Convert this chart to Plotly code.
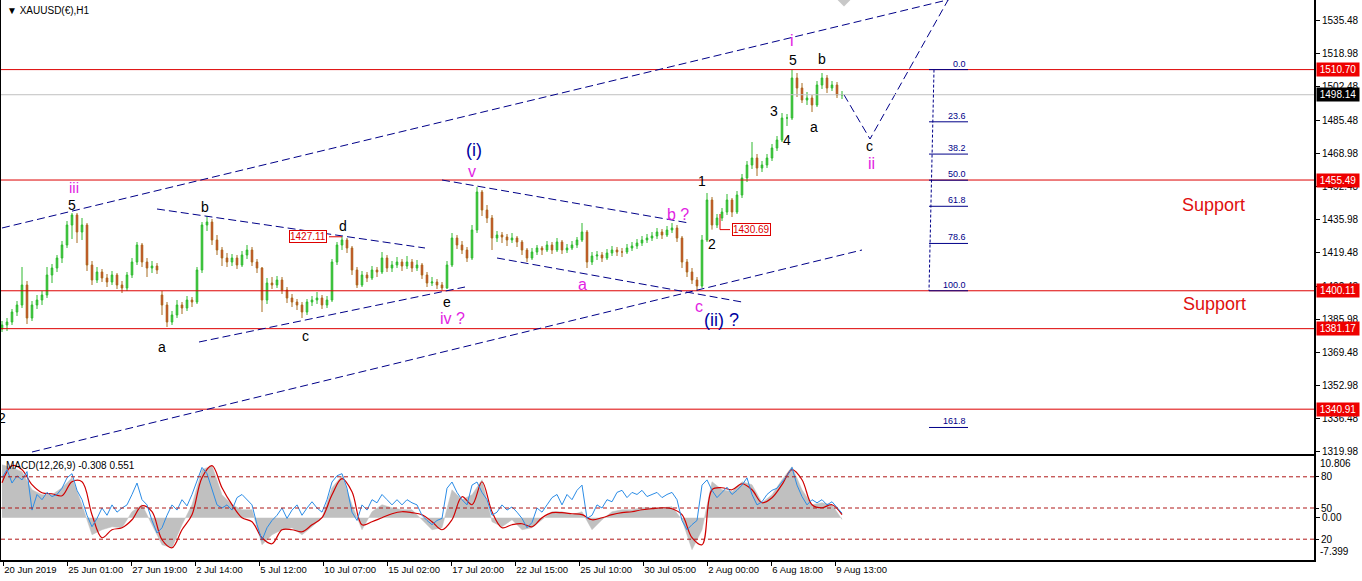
import plotly.graph_objects as go

# ---------------- XAUUSD H1 price path (one candle = 5 hourly bars) ----------------
BAR_STEP = 5
price_open = [
    1381.0, 1383.0, 1384.5, 1389.5, 1393.0, 1403.0, 1386.5, 1393.0, 1395.5, 1398.0,
    1408.0, 1411.5, 1416.5, 1423.0, 1433.0, 1438.0, 1429.5, 1433.0, 1413.0, 1405.5,
    1409.5, 1406.5, 1404.5, 1408.0, 1403.0, 1401.5, 1408.0, 1414.5, 1423.0, 1414.5,
    1411.5, 1412.5, 1398.0, 1393.0, 1384.5, 1388.0, 1393.0, 1391.5, 1395.5, 1394.5,
    1410.5, 1433.0, 1434.5, 1425.5, 1420.5, 1416.5, 1414.5, 1416.5, 1413.0, 1418.0,
    1420.5, 1414.5, 1411.5, 1395.5, 1404.0, 1403.0, 1405.5, 1400.5, 1396.5, 1394.5,
    1393.0, 1389.5, 1394.5, 1395.5, 1396.5, 1393.0, 1395.5, 1414.5, 1423.0, 1425.5,
    1421.5, 1410.5, 1403.0, 1408.0, 1406.5, 1410.5, 1409.5, 1416.5, 1411.5, 1413.0,
    1414.5, 1412.5, 1414.5, 1411.5, 1413.0, 1408.0, 1404.0, 1404.5, 1403.0, 1401.5,
    1413.0, 1426.5, 1423.0, 1420.5, 1416.5, 1430.5, 1449.5, 1440.5, 1436.5, 1426.5,
    1428.0, 1427.0, 1425.5, 1426.5, 1424.5, 1420.5, 1416.5, 1419.5, 1421.5, 1420.5,
    1423.0, 1420.5, 1424.5, 1420.5, 1421.5, 1423.0, 1425.5, 1429.5, 1414.5, 1417.5,
    1418.0, 1416.5, 1419.0, 1420.5, 1419.5, 1419.5, 1421.5, 1422.5, 1424.0, 1425.5,
    1426.5, 1427.5, 1429.5, 1428.0, 1430.5, 1431.5, 1426.5, 1414.5, 1409.5, 1405.5,
    1402.5, 1425.5, 1445.5, 1433.0, 1436.5, 1439.5, 1445.5, 1439.5, 1448.0, 1456.5,
    1463.0, 1466.5, 1461.5, 1463.0, 1466.5, 1471.5, 1475.5, 1486.5, 1486.5, 1506.5,
    1501.5, 1495.5, 1496.5, 1493.0, 1503.0, 1506.5, 1501.5, 1503.0, 1498.0,
]
price_high = [
    1385.0, 1386.5, 1391.0, 1395.0, 1412.0, 1405.0, 1395.0, 1398.0, 1400.0, 1412.0,
    1413.5, 1418.0, 1425.0, 1435.0, 1439.0, 1439.0, 1436.5, 1434.0, 1415.0, 1412.0,
    1411.0, 1408.5, 1410.0, 1409.0, 1405.0, 1409.5, 1416.5, 1424.5, 1424.0, 1416.5,
    1415.0, 1414.0, 1400.0, 1394.5, 1390.0, 1395.5, 1394.5, 1397.5, 1397.0, 1412.0,
    1434.5, 1437.5, 1436.0, 1428.0, 1422.0, 1419.0, 1418.5, 1418.0, 1420.0, 1423.0,
    1422.0, 1416.0, 1412.0, 1406.5, 1407.0, 1407.5, 1407.0, 1402.0, 1398.5, 1396.0,
    1394.5, 1396.0, 1397.5, 1399.5, 1398.0, 1397.5, 1416.0, 1424.5, 1427.1, 1426.5,
    1422.5, 1412.0, 1410.0, 1409.5, 1412.5, 1412.0, 1419.5, 1418.0, 1415.0, 1417.0,
    1416.0, 1417.5, 1416.0, 1415.5, 1414.0, 1409.5, 1407.0, 1406.0, 1404.5, 1415.0,
    1429.0, 1428.0, 1425.0, 1422.0, 1433.0, 1452.0, 1450.5, 1443.0, 1438.0, 1430.0,
    1429.5, 1428.5, 1429.0, 1427.5, 1425.5, 1421.5, 1421.5, 1423.0, 1422.5, 1425.0,
    1424.5, 1426.5, 1425.5, 1423.5, 1425.0, 1427.0, 1434.0, 1430.5, 1419.5, 1420.0,
    1419.5, 1421.0, 1422.5, 1422.0, 1421.5, 1423.5, 1424.5, 1426.0, 1427.5, 1428.5,
    1429.5, 1431.5, 1431.0, 1432.5, 1434.0, 1433.0, 1427.5, 1416.0, 1411.5, 1407.0,
    1428.0, 1449.0, 1447.0, 1438.5, 1441.5, 1448.5, 1446.5, 1450.0, 1458.5, 1465.0,
    1474.5, 1468.5, 1465.0, 1468.5, 1473.5, 1477.5, 1489.0, 1488.5, 1510.7, 1509.0,
    1504.0, 1499.5, 1498.0, 1505.0, 1509.0, 1508.0, 1505.0, 1504.5, 1500.0,
]
price_low = [
    1379.5, 1380.0, 1383.0, 1387.5, 1391.5, 1383.5, 1385.0, 1391.0, 1393.0, 1396.5,
    1404.0, 1409.5, 1414.0, 1421.5, 1426.0, 1424.0, 1425.5, 1410.0, 1403.0, 1404.0,
    1404.5, 1402.0, 1403.0, 1401.0, 1399.0, 1400.0, 1406.5, 1413.0, 1412.0, 1407.0,
    1409.0, 1408.5, 1388.0, 1382.0, 1383.0, 1386.5, 1388.5, 1390.0, 1392.0, 1393.5,
    1409.0, 1430.0, 1423.0, 1418.0, 1412.5, 1412.0, 1412.5, 1411.0, 1412.0, 1416.0,
    1412.5, 1409.0, 1389.5, 1393.5, 1401.0, 1401.5, 1398.5, 1394.0, 1392.0, 1390.5,
    1386.5, 1388.0, 1392.5, 1393.5, 1391.0, 1391.5, 1394.5, 1413.0, 1420.5, 1419.0,
    1408.0, 1401.5, 1402.0, 1404.5, 1405.5, 1407.0, 1408.5, 1409.5, 1409.5, 1411.5,
    1410.0, 1411.0, 1409.5, 1410.0, 1406.0, 1402.0, 1402.5, 1401.0, 1400.3, 1401.0,
    1412.0, 1421.0, 1418.5, 1414.5, 1415.5, 1429.0, 1437.5, 1434.0, 1420.5, 1424.5,
    1424.0, 1422.5, 1424.0, 1422.0, 1418.0, 1414.5, 1415.5, 1418.0, 1418.0, 1419.5,
    1418.5, 1419.5, 1418.5, 1419.0, 1420.5, 1421.5, 1424.5, 1411.5, 1413.0, 1415.5,
    1414.5, 1415.5, 1417.5, 1417.5, 1417.0, 1418.5, 1420.0, 1421.0, 1422.5, 1424.0,
    1425.0, 1426.0, 1426.0, 1427.0, 1429.0, 1424.5, 1411.5, 1407.0, 1403.5, 1400.1,
    1401.5, 1424.5, 1430.7, 1431.5, 1435.0, 1438.0, 1437.0, 1438.5, 1446.5, 1454.5,
    1461.0, 1457.5, 1459.5, 1461.5, 1465.0, 1470.0, 1474.5, 1482.5, 1485.5, 1497.0,
    1494.0, 1493.0, 1489.5, 1492.0, 1501.0, 1499.0, 1500.0, 1496.5, 1496.0,
]
price_close = [
    1383.0, 1384.5, 1389.5, 1393.0, 1403.0, 1386.5, 1393.0, 1395.5, 1398.0, 1408.0,
    1411.5, 1416.5, 1423.0, 1433.0, 1438.0, 1429.5, 1433.0, 1413.0, 1405.5, 1409.5,
    1406.5, 1404.5, 1408.0, 1403.0, 1401.5, 1408.0, 1414.5, 1423.0, 1414.5, 1411.5,
    1412.5, 1410.5, 1393.0, 1384.5, 1388.0, 1393.0, 1391.5, 1395.5, 1394.5, 1410.5,
    1433.0, 1434.5, 1425.5, 1420.5, 1416.5, 1414.5, 1416.5, 1413.0, 1418.0, 1420.5,
    1414.5, 1411.5, 1395.5, 1404.0, 1403.0, 1405.5, 1400.5, 1396.5, 1394.5, 1393.0,
    1389.5, 1394.5, 1395.5, 1396.5, 1393.0, 1395.5, 1414.5, 1423.0, 1425.5, 1421.5,
    1410.5, 1403.0, 1408.0, 1406.5, 1410.5, 1409.5, 1416.5, 1411.5, 1413.0, 1414.5,
    1412.5, 1414.5, 1411.5, 1413.0, 1408.0, 1404.0, 1404.5, 1403.0, 1401.5, 1413.0,
    1426.5, 1423.0, 1420.5, 1416.5, 1430.5, 1449.5, 1440.5, 1436.5, 1426.5, 1428.0,
    1427.0, 1425.5, 1426.5, 1424.5, 1420.5, 1416.5, 1419.5, 1421.5, 1420.5, 1423.0,
    1420.5, 1424.5, 1420.5, 1421.5, 1423.0, 1425.5, 1429.5, 1414.5, 1417.5, 1418.0,
    1416.5, 1419.0, 1420.5, 1419.5, 1419.5, 1421.5, 1422.5, 1424.0, 1425.5, 1426.5,
    1427.5, 1429.5, 1428.0, 1430.5, 1431.5, 1426.5, 1414.5, 1409.5, 1405.5, 1402.5,
    1425.5, 1445.5, 1433.0, 1436.5, 1439.5, 1445.5, 1439.5, 1448.0, 1456.5, 1463.0,
    1466.5, 1461.5, 1463.0, 1466.5, 1471.5, 1475.5, 1486.5, 1486.5, 1506.5, 1501.5,
    1495.5, 1496.5, 1493.0, 1503.0, 1506.5, 1501.5, 1503.0, 1498.0, 1498.14,
]
bar_x = [i * BAR_STEP for i in range(len(price_close))]

# ---------------- MACD(12,26,9) window ----------------
MACD_STEP = 10
macd_main = [
    9.28, 8.76, 8.06, 4.90, 4.03, 4.03, 5.25, 7.01, 2.28, -2.98,
    -2.10, -1.58, -1.75, 1.05, 2.28, -1.23, -4.73, -5.25, -1.23, 2.28,
    8.41, 9.11, 4.03, 2.28, 1.40, 1.40, -4.73, -2.98, -2.10, -1.75,
    -2.98, -1.58, 0.0, 5.25, 7.36, 2.28, -2.10, 1.05, 2.28, 1.75,
    1.40, 1.40, -0.35, -2.10, -1.75, 4.90, 3.15, 4.03, 6.65, -0.70,
    -1.58, -0.35, -2.10, -1.75, -0.35, 1.05, 1.05, 0.53, 1.05, -2.10,
    -0.35, 1.05, 1.40, 1.40, 1.75, 1.75, 1.75, 1.93, -0.35, -5.60,
    -2.10, 6.30, 4.90, 4.55, 6.30, 5.78, 2.63, 4.03, 6.65, 8.93,
    4.90, 2.28, 2.63, 2.28, -0.308,
]
macd_signal = [
    6.13, 9.11, 8.41, 5.78, 4.38, 4.20, 3.85, 6.30, 6.30, 0.53,
    -3.50, -2.10, -1.75, -0.35, 2.10, 1.05, -3.85, -5.25, -2.10, 0.53,
    7.01, 9.11, 5.25, 2.28, 0.0, -0.70, -3.50, -4.55, -2.10, -2.10,
    -2.45, -1.23, 0.0, 4.03, 6.83, 4.55, -1.23, -0.70, 0.0, 0.70,
    1.05, 0.88, 0.53, -0.70, -2.10, -0.35, 3.68, 2.28, 6.30, 1.05,
    -1.75, -1.23, -1.05, -1.58, 0.0, 0.88, 0.88, 0.70, 0.53, -0.35,
    0.0, 0.53, 0.88, 1.05, 1.40, 1.58, 1.75, 1.58, 0.53, -3.50,
    -4.73, 4.90, 5.25, 4.90, 5.95, 4.90, 2.63, 3.50, 5.78, 8.41,
    6.65, 2.28, 1.75, 2.28, 0.551,
]
macd_x = [i * MACD_STEP for i in range(len(macd_main))]
macd_min, macd_max = -7.399, 10.806

# oscillator overlay drawn on a 0..100 scale with 20/50/80 levels
osc_line = [
    79, 87, 74, 81, 77, 85, 48, 63, 58, 65,
    61, 63, 69, 79, 83, 67, 58, 43, 32, 40,
    50, 43, 53, 46, 50, 53, 63, 74, 58, 53,
    38, 26, 31, 43, 53, 48, 58, 52, 63, 77,
    89, 83, 69, 53, 50, 53, 48, 60, 63, 58,
    53, 34, 19, 31, 38, 43, 50, 40, 48, 53,
    43, 50, 56, 50, 46, 58, 75, 81, 83, 69,
    46, 38, 53, 48, 58, 55, 63, 58, 53, 58,
    53, 58, 55, 53, 43, 38, 34, 38, 40, 69,
    75, 65, 58, 53, 72, 75, 65, 58, 43, 46,
    53, 48, 51, 46, 40, 31, 36, 50, 46, 53,
    60, 63, 53, 63, 58, 67, 72, 40, 43, 53,
    50, 58, 56, 65, 67, 60, 65, 63, 67, 61,
    63, 65, 60, 63, 65, 58, 38, 29, 34, 38,
    72, 77, 67, 60, 65, 70, 63, 67, 72, 79,
    63, 53, 56, 63, 67, 69, 75, 81, 89, 72,
    61, 53, 58, 55, 58, 53, 56, 50, 45,
]
osc_x = [i * BAR_STEP for i in range(len(osc_line))]
osc_levels = [80, 50, 20]

# ---------------- axes ----------------
price_ticks = [1535.48, 1518.98, 1502.48, 1485.48, 1468.98, 1452.48, 1435.98,
               1419.48, 1402.48, 1385.98, 1369.48, 1352.98, 1336.48, 1319.98]
time_tick_bars = [1, 65, 129, 193, 257, 321, 385, 449, 513, 577, 641, 705, 769, 833]
time_tick_labels = ["20 Jun 2019", "25 Jun 01:00", "27 Jun 19:00", "2 Jul 14:00",
                    "5 Jul 12:00", "10 Jul 07:00", "15 Jul 02:00", "17 Jul 20:00",
                    "22 Jul 15:00", "25 Jul 10:00", "30 Jul 05:00", "2 Aug 00:00",
                    "6 Aug 18:00", "9 Aug 13:00"]
X_RANGE = [-1, 1312]
Y_RANGE = [1318.5, 1545.5]

# ---------------- drawn objects ----------------
level_prices = [1510.70, 1455.49, 1400.11, 1381.17, 1340.91]
last_price = 1498.14

# dashed trend lines: (bar0, price0, bar1, price1)
trend_lines = [
    (0, 1431.5, 1000, 1552.1),     # upper channel
    (30, 1319.5, 860, 1420.5),     # lower channel
    (155, 1441.0, 423, 1421.5),    # triangle upper edge
    (197, 1374.5, 463, 1402.0),    # triangle lower edge
    (440, 1455.5, 687, 1434.0),    # wave (ii) upper edge
    (495, 1416.5, 740, 1394.5),    # wave (ii) lower edge
]
projection_bars = [842, 868, 950]
projection_prices = [1498.1, 1476.0, 1549.0]

fib_top, fib_bottom = 1510.70, 1400.11
fib_ratios = [0.0, 23.6, 38.2, 50.0, 61.8, 78.6, 100.0, 161.8]
fib_bar_left, fib_bar_right = 927, 966
fib_axis = (932, 927)

wave_labels = [
    ("iii", 72, 1452.0, "#e21ee2", 15), ("5", 70, 1443.0, "black", 14),
    ("b", 203, 1442.0, "black", 14), ("a", 160, 1372.0, "black", 14),
    ("c", 303, 1377.5, "black", 14), ("d", 341, 1432.5, "black", 14),
    ("e", 445, 1394.5, "black", 14), ("iv ?", 450, 1386.5, "#e21ee2", 16),
    ("(i)", 472, 1470.5, "#0000a0", 18), ("v", 470, 1460.0, "#e21ee2", 16),
    ("a", 580, 1403.5, "#e21ee2", 16), ("b ?", 676, 1438.5, "#e21ee2", 16),
    ("c", 697, 1392.5, "#e21ee2", 16), ("(ii) ?", 719, 1385.5, "#0000a0", 18),
    ("1", 700, 1455.0, "black", 14), ("2", 710, 1423.5, "black", 14),
    ("3", 772, 1490.0, "black", 14), ("4", 785, 1475.5, "black", 14),
    ("5", 791, 1515.5, "black", 14), ("i", 790, 1525.5, "#e21ee2", 16),
    ("a", 812, 1482.0, "black", 14), ("b", 820, 1516.0, "black", 14),
    ("c", 867, 1472.5, "black", 14), ("ii", 869, 1464.0, "#e21ee2", 16),
    ("2", 0, 1336.5, "black", 14),
]
support_labels = [("Support", 1211, 1443.0), ("Support", 1212, 1393.5)]

FONT = "Liberation Sans, Arial, sans-serif"
NAVY = "#000088"
RED = "#dd0000"

fig = go.Figure()

fig.add_trace(go.Candlestick(
    x=bar_x, open=price_open, high=price_high, low=price_low, close=price_close,
    increasing=dict(line=dict(color="#2eb82e", width=1), fillcolor="#3ccf3c"),
    decreasing=dict(line=dict(color="#a86a1e", width=1), fillcolor="#ee1111"),
    whiskerwidth=0, xaxis="x", yaxis="y", hoverinfo="skip", showlegend=False,
))

# marker partly above the chart top
fig.add_trace(go.Scatter(x=[842], y=[1547.5], mode="markers", xaxis="x", yaxis="y",
                         marker=dict(symbol="diamond", size=16, color="#c8c8c8"),
                         cliponaxis=True, hoverinfo="skip", showlegend=False))

fig.add_trace(go.Scatter(x=projection_bars, y=projection_prices, mode="lines",
                         xaxis="x", yaxis="y", line=dict(color=NAVY, width=1, dash="8px,4px"),
                         hoverinfo="skip", showlegend=False, cliponaxis=True))

# MACD histogram as a filled area, signal line, oscillator line
fig.add_trace(go.Scatter(x=macd_x, y=macd_main, mode="lines", fill="tozeroy",
                         fillcolor="#c0c0c0", line=dict(color="#c0c0c0", width=0.5),
                         xaxis="x2", yaxis="y2", hoverinfo="skip", showlegend=False))
fig.add_trace(go.Scatter(x=osc_x, y=osc_line, mode="lines",
                         line=dict(color="#2b8ce6", width=1),
                         xaxis="x2", yaxis="y3", hoverinfo="skip", showlegend=False))
fig.add_trace(go.Scatter(x=macd_x, y=macd_signal, mode="lines",
                         line=dict(color="#d00000", width=1.2, shape="spline"),
                         xaxis="x2", yaxis="y2", hoverinfo="skip", showlegend=False))

shapes = []
for p in level_prices:
    shapes.append(dict(type="line", xref="x", yref="y", x0=X_RANGE[0], x1=X_RANGE[1],
                       y0=p, y1=p, line=dict(color=RED, width=1)))
shapes.append(dict(type="line", xref="x", yref="y", x0=X_RANGE[0], x1=X_RANGE[1],
                   y0=last_price, y1=last_price, line=dict(color="#c0c0c0", width=1)))
for b0, p0, b1, p1 in trend_lines:
    shapes.append(dict(type="line", xref="x", yref="y", x0=b0, y0=p0, x1=b1, y1=p1,
                       line=dict(color=NAVY, width=1, dash="8px,4px")))

# Fibonacci retracement
shapes.append(dict(type="line", xref="x", yref="y", x0=fib_axis[0], y0=fib_top,
                   x1=fib_axis[1], y1=fib_bottom, line=dict(color=NAVY, width=1, dash="3px,2px")))
annotations = []
for r in fib_ratios:
    p = fib_top - r / 100.0 * (fib_top - fib_bottom)
    shapes.append(dict(type="line", xref="x", yref="y", x0=fib_bar_left, x1=fib_bar_right,
                       y0=p, y1=p, line=dict(color=NAVY, width=1)))
    annotations.append(dict(x=fib_bar_right, y=p, xref="x", yref="y", text=f"{r:.1f}",
                            showarrow=False, xanchor="right", yanchor="bottom", yshift=-1,
                            font=dict(family=FONT, size=9, color=NAVY)))

# boxed price notes with connectors
shapes.append(dict(type="line", xref="x", yref="y", x0=327, x1=340, y0=1427.11, y1=1427.11,
                   line=dict(color=RED, width=1)))
shapes.append(dict(type="line", xref="x", yref="y", x0=718, x1=718, y0=1438.5, y1=1430.69,
                   line=dict(color=RED, width=1)))
shapes.append(dict(type="line", xref="x", yref="y", x0=718, x1=728, y0=1430.69, y1=1430.69,
                   line=dict(color=RED, width=1)))
for txt, bx, py in [("1427.11", 306, 1427.11), ("1430.69", 749, 1430.69)]:
    annotations.append(dict(x=bx, y=py, xref="x", yref="y", text=txt, showarrow=False,
                            bgcolor="white", bordercolor=RED, borderwidth=1, borderpad=0,
                            font=dict(family=FONT, size=10, color=RED)))

# MACD window levels
for lv in osc_levels:
    shapes.append(dict(type="line", xref="x2", yref="y3", x0=X_RANGE[0], x1=X_RANGE[1],
                       y0=lv, y1=lv, line=dict(color="#b01818", width=1, dash="4px,3px")))

for txt, bx, py, col, sz in wave_labels:
    annotations.append(dict(x=bx, y=py, xref="x", yref="y", text=txt, showarrow=False,
                            font=dict(family=FONT, size=sz, color=col)))
for txt, bx, py in support_labels:
    annotations.append(dict(x=bx, y=py, xref="x", yref="y", text=txt, showarrow=False,
                            font=dict(family=FONT, size=18, color="#e01010")))

# right-edge price boxes
for p in level_prices:
    annotations.append(dict(x=1, xref="paper", y=p, yref="y", text=f"{p:.2f}", showarrow=False,
                            xanchor="left", xshift=2, bgcolor="#ee0000", borderpad=1, width=40,
                            font=dict(family=FONT, size=10, color="white")))
annotations.append(dict(x=1, xref="paper", y=last_price, yref="y", text=f"{last_price:.2f}",
                        showarrow=False, xanchor="left", xshift=2, bgcolor="black", borderpad=1,
                        width=40, font=dict(family=FONT, size=10, color="white")))

annotations.append(dict(x=0, y=1, xref="paper", yref="paper", xanchor="left", yanchor="top",
                        xshift=4, yshift=-3, text="▼ XAUUSD(€),H1", showarrow=False,
                        font=dict(family=FONT, size=10, color="black")))
annotations.append(dict(x=0, y=macd_max, xref="paper", yref="y2", xanchor="left", yanchor="top",
                        xshift=3, yshift=-2, text="MACD(12,26,9) -0.308 0.551", showarrow=False,
                        font=dict(family=FONT, size=10, color="black")))
annotations.append(dict(x=1, y=macd_max, xref="paper", yref="y2", xanchor="left", yanchor="top",
                        xshift=4, text=f"{macd_max:.3f}", showarrow=False,
                        font=dict(family=FONT, size=10, color="black")))
annotations.append(dict(x=1, y=macd_min, xref="paper", yref="y2", xanchor="left", yanchor="bottom",
                        xshift=4, yshift=1, text=f"{macd_min:.3f}", showarrow=False,
                        font=dict(family=FONT, size=10, color="black")))

H, W = 581, 1362
M_T, M_B, M_L, M_R = 0, 21, 1, 48
plot_h = H - M_T - M_B
main_dom = [(plot_h - 454) / plot_h, 1]
macd_dom = [0, (plot_h - 456) / plot_h]

tickfont = dict(family=FONT, size=10, color="black")
fig.update_layout(
    width=W, height=H, margin=dict(l=M_L, r=M_R, t=M_T, b=M_B, autoexpand=False),
    paper_bgcolor="white", plot_bgcolor="white", showlegend=False, boxgap=0.55,
    shapes=shapes, annotations=annotations,
    xaxis=dict(domain=[0, 1], range=X_RANGE, anchor="y", showticklabels=False, ticks="",
               showline=True, linecolor="black", linewidth=1, showgrid=False, zeroline=False,
               rangeslider=dict(visible=False), fixedrange=True, automargin=False),
    yaxis=dict(domain=main_dom, range=Y_RANGE, anchor="x", side="right",
               tickvals=price_ticks, ticktext=[f"{v:.2f}" for v in price_ticks],
               ticks="outside", ticklen=4, tickcolor="black", tickfont=tickfont,
               showline=True, mirror=True, linecolor="black", linewidth=2, automargin=False,
               showgrid=False, zeroline=False, fixedrange=True),
    xaxis2=dict(domain=[0, 1], range=X_RANGE, anchor="y2", tickvals=time_tick_bars,
                ticktext=time_tick_labels, ticks="outside", ticklen=4, tickcolor="black",
                ticklabelposition="outside right", tickangle=0,
                tickfont=dict(family=FONT, size=9.5, color="black"),
                showline=True, mirror=True, linecolor="black", linewidth=1.5, automargin=False,
                showgrid=False, zeroline=False, fixedrange=True),
    yaxis2=dict(domain=macd_dom, range=[macd_min, macd_max], anchor="x2", side="right",
                tickvals=[0], ticktext=["0.00"], ticks="outside", ticklen=4, tickcolor="black",
                tickfont=tickfont, showline=True, mirror=True, linecolor="black", linewidth=2,
                showgrid=False, zeroline=False, fixedrange=True, automargin=False),
    yaxis3=dict(overlaying="y2", range=[0, 100], anchor="x2", side="right",
                tickvals=osc_levels, ticktext=[str(v) for v in osc_levels], ticks="outside",
                ticklen=4, tickcolor="black", tickfont=tickfont, showline=False, automargin=False,
                showgrid=False, zeroline=False, fixedrange=True),
)

fig.write_html("out.html", config={"displayModeBar": False})
